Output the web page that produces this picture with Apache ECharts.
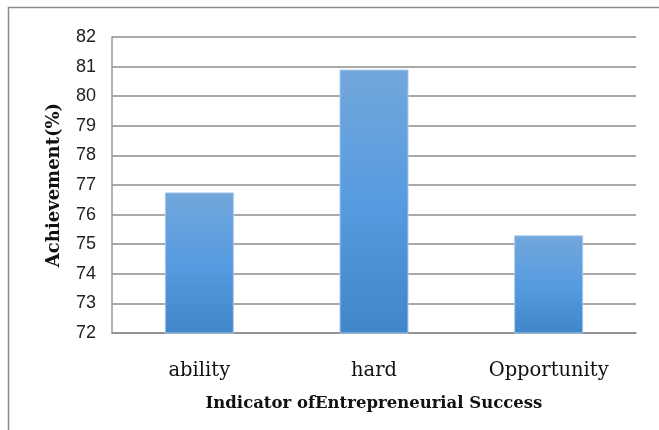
<!DOCTYPE html>
<html>
<head>
<meta charset="utf-8">
<script src="https://cdn.jsdelivr.net/npm/echarts@6/dist/echarts.min.js"></script>
<style>
  html, body { margin: 0; padding: 0; background: #fff; }
  #main { width: 659px; height: 430px; }
</style>
</head>
<body>
<div id="main"></div>
<script>
var categories = ['ability', 'hard', 'Opportunity'];
var achievement = [76.75, 80.9, 75.3];
var yMin = 72;
var yMax = 82;

var myChart = echarts.init(document.getElementById('main'));

var option = {
  backgroundColor: '#fff',
  animation: false,
  graphic: [
    {
      // chart frame (only top & left edges are visible in the picture)
      type: 'rect',
      shape: { x: 8.5, y: 7.5, width: 700, height: 500 },
      style: { fill: 'none', stroke: '#8a8a8a', lineWidth: 1.5 }
    }
  ],
  grid: {
    left: 112,
    right: 23,
    top: 37,
    bottom: 97
  },
  xAxis: {
    type: 'category',
    data: categories,
    name: 'Indicator ofEntrepreneurial Success',
    nameLocation: 'middle',
    nameGap: 62,
    nameTextStyle: {
      fontFamily: 'DejaVu Serif',
      fontWeight: 'bold',
      fontSize: 16.5,
      color: '#111'
    },
    axisLine: { lineStyle: { color: '#8c8c8c', width: 1.5 } },
    axisTick: { show: false },
    axisLabel: {
      fontFamily: 'DejaVu Serif',
      fontSize: 19.5,
      color: '#111',
      margin: 28
    }
  },
  yAxis: {
    type: 'value',
    min: yMin,
    max: yMax,
    interval: 1,
    name: 'Achievement(%)',
    nameLocation: 'middle',
    nameGap: 49,
    nameTextStyle: {
      fontFamily: 'DejaVu Serif',
      fontWeight: 'bold',
      fontSize: 18,
      color: '#111'
    },
    axisLine: { show: true, lineStyle: { color: '#9a9a9a', width: 1.5 } },
    axisTick: { show: false },
    splitLine: { lineStyle: { color: '#8c8c8c', width: 1.5 } },
    axisLabel: {
      fontFamily: 'Liberation Sans Narrow, Liberation Sans',
      fontSize: 18,
      color: '#222',
      margin: 16
    }
  },
  series: [
    {
      type: 'bar',
      data: achievement,
      barWidth: 69,
      itemStyle: {
        color: new echarts.graphic.LinearGradient(0, 0, 0, 1, [
          { offset: 0, color: '#72a7dc' },
          { offset: 0.5, color: '#579be0' },
          { offset: 1, color: '#4186c8' }
        ]),
        borderColor: '#a9c9ec',
        borderWidth: 1
      }
    }
  ]
};

myChart.setOption(option);
</script>
</body>
</html>
